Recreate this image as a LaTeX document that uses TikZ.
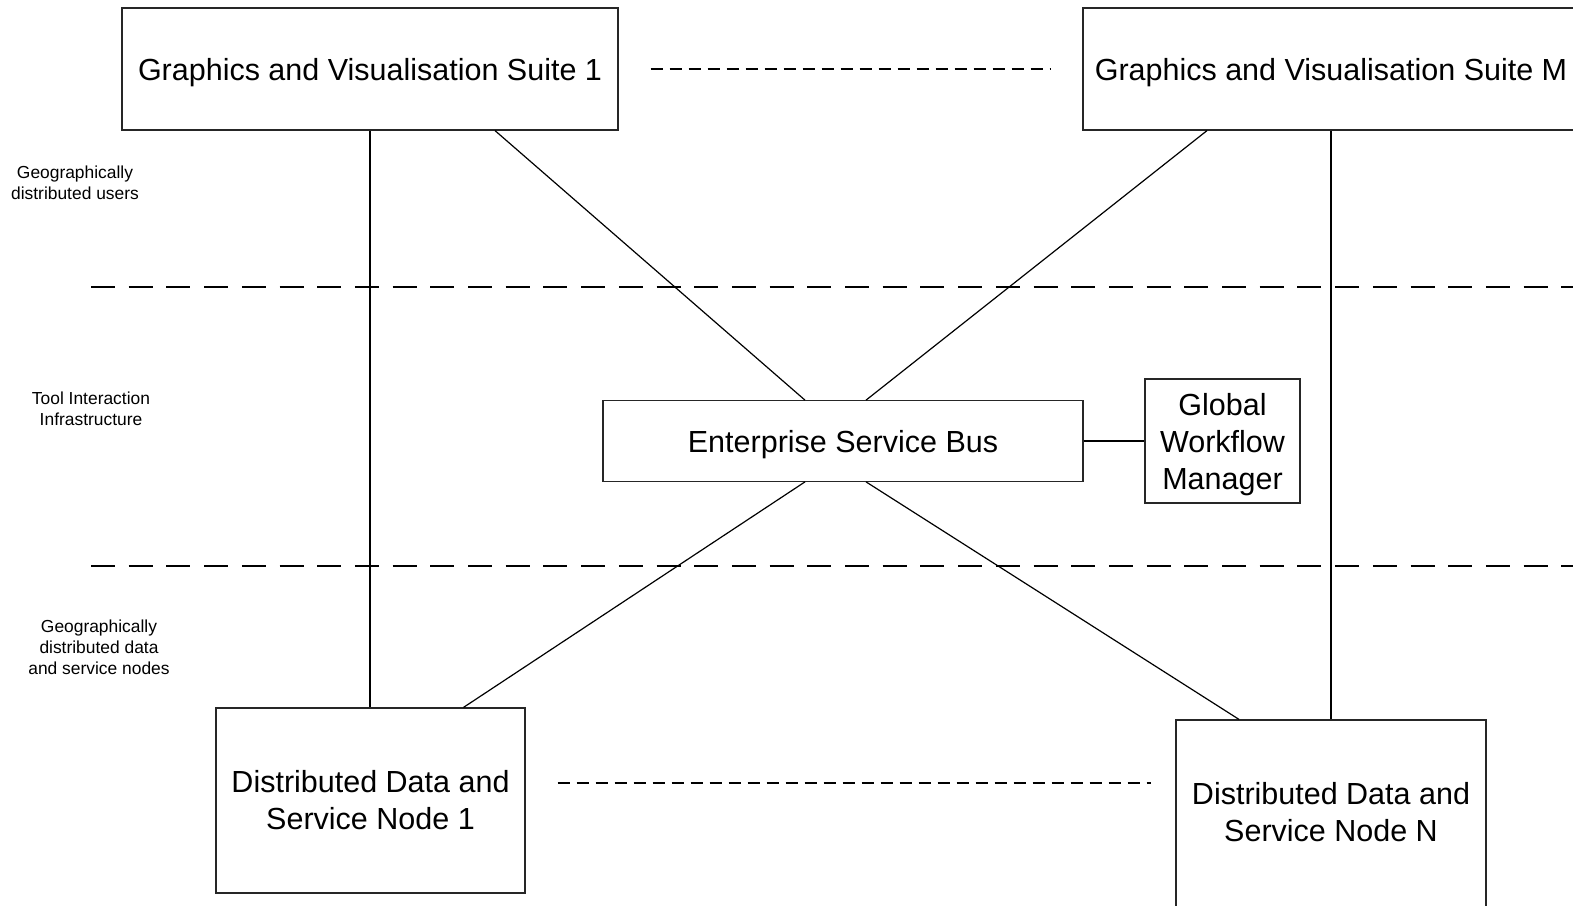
\documentclass[tikz,border=0pt]{standalone}
\usepackage{fontspec}
\setmainfont{Liberation Sans}
\usetikzlibrary{calc}
\begin{document}
\begin{tikzpicture}[x=1pt,y=-1pt,
  box/.style={draw=black!85, line width=1.2pt, inner sep=0pt, align=center,
              text depth=0pt, font=\fontsize{30.5}{37}\selectfont},
  link/.style={draw=black, line width=1.2pt},
  tier/.style={draw=black, line width=1.6pt, dash pattern=on 24pt off 13.7pt},
  etc/.style={draw=black, line width=1.6pt, dash pattern=on 12pt off 7pt},
  lane/.style={align=center, font=\fontsize{17.4}{21}\selectfont}]
\useasboundingbox (0,0) rectangle (1573,905);
\clip (0,0) rectangle (1573,905);

% tier separators
\draw[tier] (91,287) -- (1590,287);
\draw[tier] (91,566) -- (1590,566);

% tier labels
\node[lane] (users) at (75,182.6) {Geographically\\distributed users};
\node[lane] (infra) at (91,409) {Tool Interaction\\Infrastructure};
\node[lane] (data)  at (99,647) {Geographically\\distributed data\\and service nodes};

% components
\node[box, minimum width=496pt, minimum height=122pt] (gvs1) at (370,69)
  {Graphics and Visualisation Suite 1};
\node[box, minimum width=496pt, minimum height=122pt] (gvsm) at (1331,69)
  {Graphics and Visualisation Suite M};
\node[box, minimum width=480pt, minimum height=80.5pt] (esb) at (843,441)
  {Enterprise Service Bus};
\node[box, minimum width=155pt, minimum height=124pt] (gwm) at (1222.5,441)
  {Global\\Workflow\\Manager};
\node[box, text depth=, minimum width=309pt, minimum height=185pt] (ddsn1) at (370.5,800.5)
  {Distributed Data and\\Service Node 1};
\node[box, text depth=6pt, minimum width=310pt, minimum height=190pt] (ddsnN) at (1331,815)
  {Distributed Data and\\Service Node N};

% connections
\draw[link] (gvs1.south) -- (gvs1.south |- ddsn1.north);
\draw[link] ($(gvs1.south)+(125,0)$) -- ($(esb.north)+(-38,0)$);
\draw[link] ($(gvsm.south)+(-124,0)$) -- ($(esb.north)+(23,0)$);
\draw[link] (gvsm.south) -- (gvsm.south |- ddsnN.north);
\draw[link] ($(esb.south)+(-38,0)$) -- ($(ddsn1.north)+(93,0)$);
\draw[link] ($(esb.south)+(23,0)$) -- ($(ddsnN.north)+(-92,0)$);
\draw[link] (esb.east) -- (gwm.west);

% elided instances
\draw[etc] ($(gvs1.east)+(32,0)$) -- ($(gvsm.west)+(-32,0)$);
\draw[etc] ($(ddsn1.east)+(32,-17.5)$) -- ($(ddsnN.west)+(-24,-32)$);
\end{tikzpicture}
\end{document}
